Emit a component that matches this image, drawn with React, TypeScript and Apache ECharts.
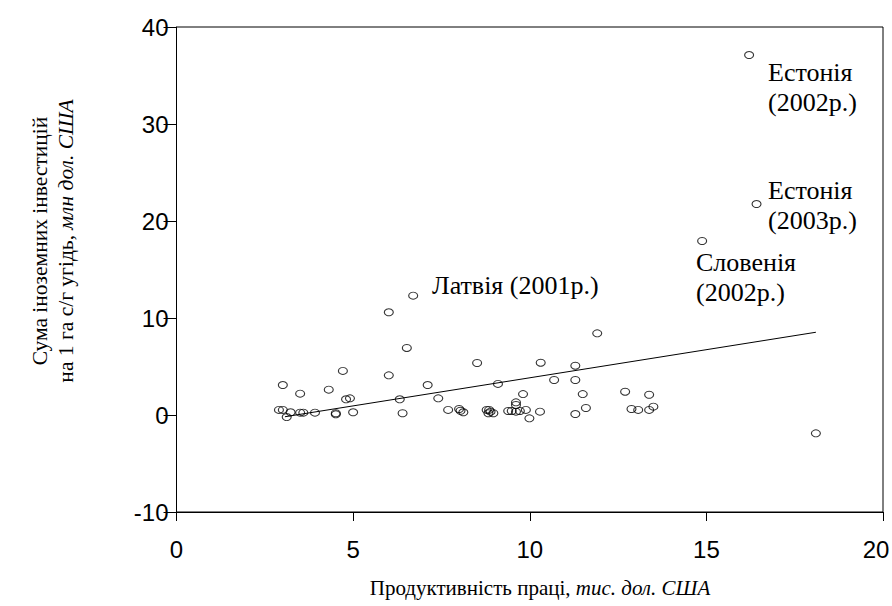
import React, { useEffect, useRef } from "react";
import * as echarts from "echarts";

// Productivity (x, thous. USD) and FDI per ha (y, mln USD)
const productivity: number[] = [
  6.70, 6.01, 6.52, 4.71, 6.01, 7.11, 3.01, 3.50, 4.31, 4.80,
  4.91, 6.32, 7.41, 2.90, 3.01, 3.12, 3.23, 3.50, 3.59, 3.92,
  4.51, 4.51, 5.00, 6.40, 7.69, 11.91, 8.51, 10.31, 11.29, 10.69,
  11.29, 9.10, 9.81, 11.50, 12.70, 8.00, 8.04, 8.12, 8.78, 8.85,
  8.89, 8.97, 8.83, 9.61, 9.61, 9.39, 9.49, 9.61, 9.72, 9.89,
  9.99, 10.29, 11.29, 11.59, 12.88, 13.07, 13.38, 13.50, 13.38, 18.10,
  16.21, 16.42, 14.88,
];
const investment: number[] = [
  12.30, 10.59, 6.91, 4.54, 4.09, 3.09, 3.09, 2.20, 2.61, 1.62,
  1.72, 1.62, 1.72, 0.52, 0.52, -0.21, 0.28, 0.24, 0.24, 0.24,
  0.18, 0.07, 0.28, 0.18, 0.52, 8.42, 5.36, 5.39, 5.08, 3.61,
  3.61, 3.20, 2.16, 2.16, 2.40, 0.62, 0.44, 0.28, 0.52, 0.52,
  0.34, 0.18, 0.18, 1.31, 1.03, 0.41, 0.41, 0.34, 0.41, 0.52,
  -0.34, 0.34, 0.10, 0.72, 0.62, 0.52, 0.52, 0.86, 2.09, -1.89,
  37.11, 21.75, 17.94,
];
const trendX: number[] = [3.07, 18.1];
const trendY: number[] = [-0.18, 8.53];
const xTicks = { min: 0, max: 20, interval: 5 };
const yTicks = { min: -10, max: 40, interval: 10 };

const SERIF = "'Liberation Serif', 'Times New Roman', serif";
const SANS = "'Liberation Sans', Arial, sans-serif";

export default function App() {
  const ref = useRef<HTMLDivElement>(null);
  useEffect(() => {
    if (!ref.current) return;
    const chart = echarts.init(ref.current, null, { renderer: "svg" });
    const points = productivity.map((x, i) => [x, investment[i]]);
    const trend = trendX.map((x, i) => [x, trendY[i]]);
    const textStyle = { fontFamily: SERIF, fontSize: 26, fill: "#000", lineHeight: 30 };
    const labelRich = {
      n: { fontFamily: SANS, fontSize: 24, color: "#000" },
      r: { fontFamily: SANS, fontSize: 24, color: "#000", padding: [0, 14, 0, 0] },
    };
    chart.setOption({
      animation: false,
      backgroundColor: "#fff",
      grid: {
        left: 176.5,
        right: 9,
        top: 27,
        bottom: 94,
        show: true,
        borderColor: "#000",
        borderWidth: 1,
        containLabel: false,
        outerBoundsMode: "none",
      },
      xAxis: {
        type: "value",
        min: xTicks.min,
        max: xTicks.max,
        interval: xTicks.interval,
        splitLine: { show: false },
        axisLine: { show: true, onZero: false, lineStyle: { color: "#000", width: 1 } },
        axisTick: { show: true, length: 9, inside: false, lineStyle: { color: "#000" } },
        axisLabel: {
          margin: 25,
          fontFamily: SANS,
          fontSize: 24,
          color: "#000",
          formatter: (v: number) => (v === xTicks.max ? "{r|" + v + "}" : "{n|" + v + "}"),
          rich: labelRich,
        },
      },
      yAxis: {
        type: "value",
        min: yTicks.min,
        max: yTicks.max,
        interval: yTicks.interval,
        splitLine: { show: false },
        axisLine: { show: true, onZero: false, lineStyle: { color: "#000", width: 1 } },
        axisTick: { show: true, length: 13, inside: false, lineStyle: { color: "#000" } },
        axisLabel: { margin: 8, fontFamily: SANS, fontSize: 24, color: "#000" },
      },
      series: [
        {
          type: "line",
          data: trend,
          showSymbol: false,
          symbol: "none",
          lineStyle: { color: "#000", width: 1 },
          z: 1,
        },
        {
          type: "scatter",
          data: points,
          symbol: "circle",
          symbolSize: [9, 7],
          itemStyle: { color: "rgba(0,0,0,0)", borderColor: "#000", borderWidth: 1 },
          z: 2,
        },
      ],
      graphic: [
        {
          type: "text",
          left: 432,
          top: 270,
          style: { ...textStyle, text: "Латвія (2001р.)" },
        },
        {
          type: "text",
          left: 768,
          top: 57,
          style: { ...textStyle, text: "Естонія\n(2002р.)" },
        },
        {
          type: "text",
          left: 768,
          top: 175,
          style: { ...textStyle, text: "Естонія\n(2003р.)" },
        },
        {
          type: "text",
          left: 696,
          top: 247,
          style: { ...textStyle, text: "Словенія\n(2002р.)" },
        },
        {
          type: "text",
          x: 540,
          y: 588,
          style: {
            text: "{n|Продуктивність праці, }{i|тис. дол. США}",
            align: "center",
            verticalAlign: "middle",
            rich: {
              n: { fontFamily: SERIF, fontSize: 21, fill: "#000" },
              i: { fontFamily: SERIF, fontSize: 21, fontStyle: "italic", fill: "#000" },
            },
          },
        },
        {
          type: "text",
          x: 53,
          y: 241,
          rotation: Math.PI / 2,
          style: {
            text: "{n|Сума іноземних інвестицій}\n{n|на 1 га с/г угідь, }{i|млн дол. США}",
            align: "center",
            verticalAlign: "middle",
            rich: {
              n: { fontFamily: SERIF, fontSize: 21.5, fill: "#000", lineHeight: 26 },
              i: { fontFamily: SERIF, fontSize: 21.5, fontStyle: "italic", fill: "#000", lineHeight: 26 },
            },
          },
        },
      ],
    });
    return () => chart.dispose();
  }, []);
  return (
    <div
      ref={ref}
      style={{ position: "fixed", left: 0, top: 0, width: 892, height: 606, background: "#fff" }}
    />
  );
}
